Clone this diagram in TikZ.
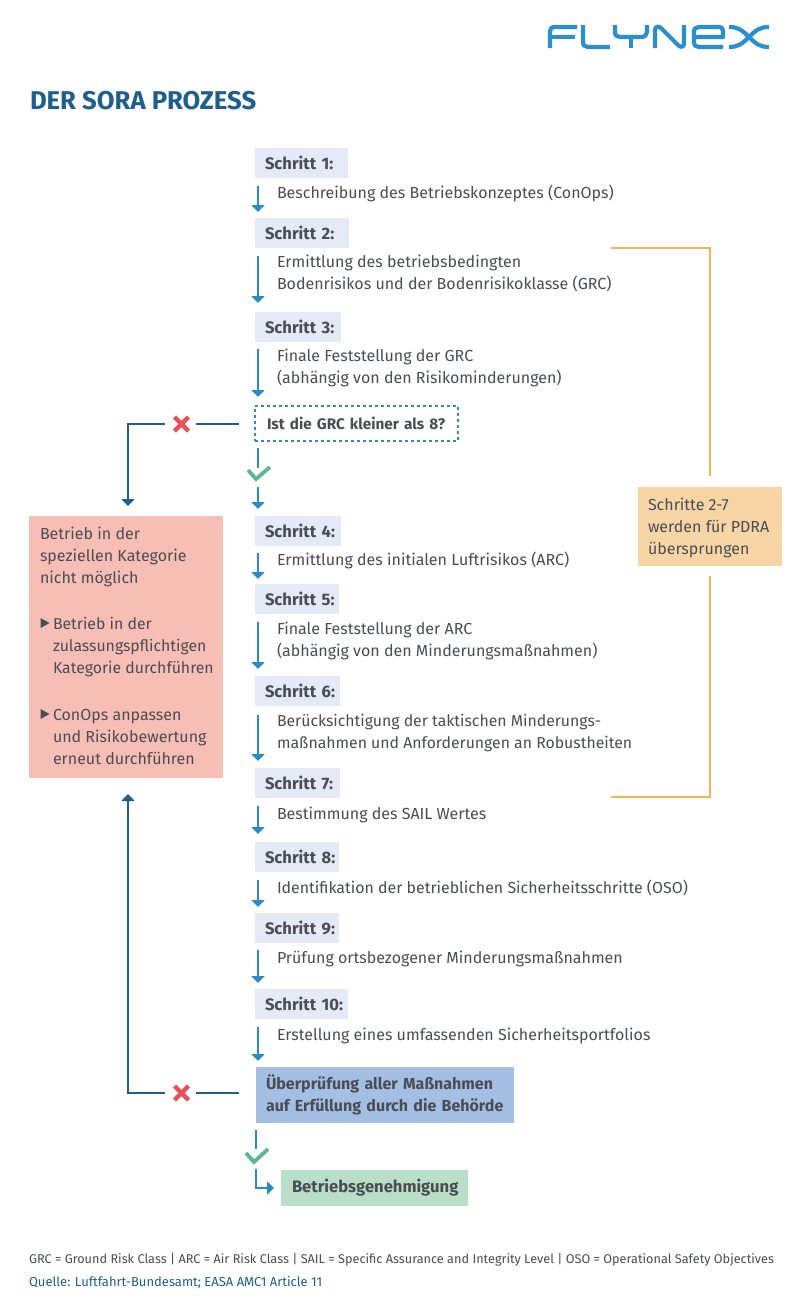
\documentclass[tikz,border=0pt]{standalone}
\usepackage{fontspec}
\setmainfont{Fira Sans}
\usetikzlibrary{arrows.meta}
\definecolor{txt}{HTML}{4A4D52}
\definecolor{head}{HTML}{1F5F8B}
\definecolor{stepfill}{HTML}{E4EAF6}
\definecolor{blu}{HTML}{2A8BC5}
\definecolor{navy}{HTML}{1F5F8B}
\definecolor{orng}{HTML}{F0B55C}
\definecolor{orfill}{HTML}{F7D5A5}
\definecolor{redfill}{HTML}{F7BEB6}
\definecolor{rd}{HTML}{E8505B}
\definecolor{grn}{HTML}{5DB88E}
\definecolor{grfill}{HTML}{BADFC9}
\definecolor{bluefill}{HTML}{A3BFE3}
\definecolor{logo}{HTML}{2A8FCA}
\newcommand{\pad}[1]{\hspace*{#1pt}}
\tikzset{
  x=1pt,y=-1pt,
  base/.style={font=\fontsize{16}{22}\selectfont,text=txt,inner sep=0pt,outer sep=0pt},
  stepbox/.style={font=\fontsize{16.6}{22}\selectfont\bfseries,text=txt,fill=stepfill,anchor=north west,minimum height=30pt,inner sep=0pt,outer sep=0pt,align=left},
  desc/.style={base,anchor=north west,align=left},
  flow/.style={draw=blu,line width=2pt,-{Triangle[length=7pt,width=13pt]}},
  flowplain/.style={draw=blu,line width=2pt},
  back/.style={draw=navy,line width=2pt,-{Triangle[length=7pt,width=13pt]}},
  backplain/.style={draw=navy,line width=2pt},
  brace/.style={draw=orng,line width=1.8pt},
  cross/.style={draw=rd,line width=4.4pt},
  tick/.style={draw=grn,line width=3.8pt},
  logostroke/.style={draw=logo,line width=4.2pt,line join=round},
}
\begin{document}
\begin{tikzpicture}
\useasboundingbox (0,0) rectangle (800,1307);
\fill[white] (0,0) rectangle (800,1307);
% logo
\begin{scope}[logostroke]
\draw (577,27) -- (555,27) .. controls (551,27) and (550,29) .. (550,32) -- (550,48);
\draw (551,37) -- (575,37);
\draw (583,25) -- (583,42) .. controls (583,45.5) and (585,47) .. (588,47) -- (610,47);
\draw (615,25) -- (615,32) .. controls (615,35.5) and (617,37) .. (620,37) -- (641,37) .. controls (645,37) and (647,35) .. (647,32) -- (647,25);
\draw (631,37) -- (631,48);
\draw (655,48) -- (655,30) .. controls (655,26) and (659,26) .. (661,28) -- (678,45) .. controls (680,47.5) and (684,47.5) .. (684,44) -- (684,25);
\draw (694,37) -- (723,37) -- (723,31) .. controls (723,28) and (721.5,27) .. (719,27) -- (699,27) .. controls (696,27) and (694,28.5) .. (694,32) -- (694,42) .. controls (694,45.5) and (696,47) .. (699,47) -- (723,47);
\draw (729,27) .. controls (738,27) and (742,30) .. (749,37) .. controls (756,44) and (760,47) .. (769,47);
\draw (729,47) .. controls (738,47) and (742,44) .. (749,37) .. controls (756,30) and (760,27) .. (769,27);
\end{scope}
% title
\node[base,anchor=base west,font=\fontsize{25.7}{28}\selectfont\bfseries,text=head] (title) at (30,109) {DER SORA PROZESS};
% steps
\node[stepbox,text width=93pt] (s1) at (255,148) {\pad{10}Schritt 1:};
\node[stepbox,text width=94pt] (s2) at (255,218) {\pad{10}Schritt 2:};
\node[stepbox,text width=86pt] (s3) at (255,312) {\pad{10}Schritt 3:};
\node[stepbox,text width=86pt] (s4) at (255,516) {\pad{10}Schritt 4:};
\node[stepbox,text width=84pt] (s5) at (255,584) {\pad{10}Schritt 5:};
\node[stepbox,text width=85pt] (s6) at (255,676) {\pad{10}Schritt 6:};
\node[stepbox,text width=85pt] (s7) at (255,768) {\pad{10}Schritt 7:};
\node[stepbox,text width=84pt] (s8) at (255,842) {\pad{10}Schritt 8:};
\node[stepbox,text width=84pt] (s9) at (255,913) {\pad{10}Schritt 9:};
\node[stepbox,text width=93pt] (s10) at (255,989) {\pad{10}Schritt 10:};
% descriptions
\node[desc] (d1) at (277,185) {Beschreibung des Betriebskonzeptes (ConOps)};
\node[desc] (d2) at (277,255) {Ermittlung des betriebsbedingten\\Bodenrisikos und der Bodenrisikoklasse (GRC)};
\node[desc] (d3) at (277,349) {Finale Feststellung der GRC\\(abhängig von den Risikominderungen)};
\node[desc] (d4) at (277,552) {Ermittlung des initialen Luftrisikos (ARC)};
\node[desc] (d5) at (277,622) {Finale Feststellung der ARC\\(abhängig von den Minderungsmaßnahmen)};
\node[desc,font=\fontsize{15.8}{22}\selectfont] (d6) at (277,714) {Berücksichtigung der taktischen Minderungs-\\maßnahmen und Anforderungen an Robustheiten};
\node[desc] (d7) at (277,807) {Bestimmung des SAIL Wertes};
\node[desc,font=\fontsize{15.9}{22}\selectfont] (d8) at (277,880) {Identifikation der betrieblichen Sicherheitsschritte (OSO)};
\node[desc] (d9) at (277,951) {Prüfung ortsbezogener Minderungsmaßnahmen};
\node[desc] (d10) at (277,1028) {Erstellung eines umfassenden Sicherheitsportfolios};
% decision
\node[font=\fontsize{15.3}{22}\selectfont\bfseries,text=txt,anchor=north west,draw=blu,line width=2pt,dash pattern=on 3pt off 3pt,text width=203pt,minimum height=35pt,inner sep=0pt,outer sep=0pt,align=left] (q) at (255,406) {\pad{12}Ist die GRC kleiner als 8?};
\node[font=\fontsize{16}{22.5}\selectfont\bfseries,text=txt,anchor=north west,fill=bluefill,text width=258pt,minimum height=56pt,inner sep=0pt,outer sep=0pt,align=left] (rev) at (256,1067) {\pad{10}Überprüfung aller Maßnahmen\\\pad{10}auf Erfüllung durch die Behörde};
\node[font=\fontsize{16.6}{22}\selectfont\bfseries,text=txt,anchor=north west,fill=grfill,text width=187pt,minimum height=36pt,inner sep=0pt,outer sep=0pt,align=left] (ok) at (281,1170) {\pad{11}Betriebsgenehmigung};
% side boxes
\node[base,anchor=north west,fill=orfill,minimum width=144pt,minimum height=79pt] (o) at (638,487) {};
\node[base,anchor=north west,align=left] (ot) at (648,498) {Schritte 2-7\\werden für PDRA\\übersprungen};
\node[base,anchor=north west,fill=redfill,minimum width=194pt,minimum height=262pt] (r) at (29,516) {};
\node[base,anchor=north west,align=left] (r1) at (40,527) {Betrieb in der\\speziellen Kategorie\\nicht möglich};
\node[base,anchor=north west,align=left,font=\fontsize{15.8}{22}\selectfont] (r2) at (53,617) {Betrieb in der\\zulassungspflichtigen\\Kategorie durchführen};
\node[base,anchor=north west,align=left] (r3) at (53,709) {ConOps anpassen\\und Risikobewertung\\erneut durchführen};
\fill[txt] (40.5,618) -- (49.5,623) -- (40.5,628) -- cycle;
\fill[txt] (40.5,709) -- (49.5,714) -- (40.5,719) -- cycle;
% flow arrows
\foreach \a/\b in {186/212,256/303,349/397,553/579,622/669,715/761,806/834,880/907,950/983,1027/1061}{
  \coordinate (p) at (258,\a); \coordinate (e) at (258,\b);
  \draw[flow] (p) -- (e);
}
% below decision
\coordinate (qa) at (258,448); \coordinate (qb) at (258,468);
\draw[flowplain] (qa) -- (qb);
\draw[tick] (248,470) -- (256,479) -- (270,467);
\coordinate (qc) at (258,487); \coordinate (qd) at (258,509);
\draw[flow] (qc) -- (qd);
% below review
\coordinate (ra) at (256,1130); \coordinate (rb) at (256,1149);
\draw[flowplain] (ra) -- (rb);
\draw[tick] (246,1153) -- (254,1162) -- (268,1149);
\coordinate (rc) at (256,1169); \coordinate (rd) at (274,1188);
\draw[flow] (rc) |- (rd);
% left fail path top
\coordinate (f1) at (239,424); \coordinate (f2) at (196,424);
\draw[backplain] (f1) -- (f2);
\coordinate (f3) at (165,424); \coordinate (f4) at (128,424); \coordinate (f5) at (128,506);
\draw[back] (f3) -- (f4) -- (f5);
\draw[cross] (174.5,417) -- (188.5,431) (188.5,417) -- (174.5,431);
% left fail path bottom
\coordinate (g1) at (239,1093); \coordinate (g2) at (196,1093);
\draw[backplain] (g1) -- (g2);
\coordinate (g3) at (165,1093); \coordinate (g4) at (128,1093); \coordinate (g5) at (128,794);
\draw[back] (g3) -- (g4) -- (g5);
\draw[cross] (174.5,1086) -- (188.5,1100) (188.5,1086) -- (174.5,1100);
% bracket
\coordinate (b1) at (611,248); \coordinate (b2) at (710,248); \coordinate (b3) at (710,476);
\draw[brace] (b1) -- (b2) -- (b3);
\coordinate (b4) at (710,576); \coordinate (b5) at (710,797); \coordinate (b6) at (611,797);
\draw[brace] (b4) -- (b5) -- (b6);
% footer
\node[base,anchor=base west,font=\fontsize{12.7}{16}\selectfont] (fn) at (29,1263) {GRC = Ground Risk Class | ARC = Air Risk Class | SAIL = Specific Assurance and Integrity Level | OSO = Operational Safety Objectives};
\node[base,anchor=base west,font=\fontsize{13}{16}\selectfont,text=navy] (src) at (29,1286) {Quelle: Luftfahrt-Bundesamt; EASA AMC1 Article 11};
\end{tikzpicture}
\end{document}
